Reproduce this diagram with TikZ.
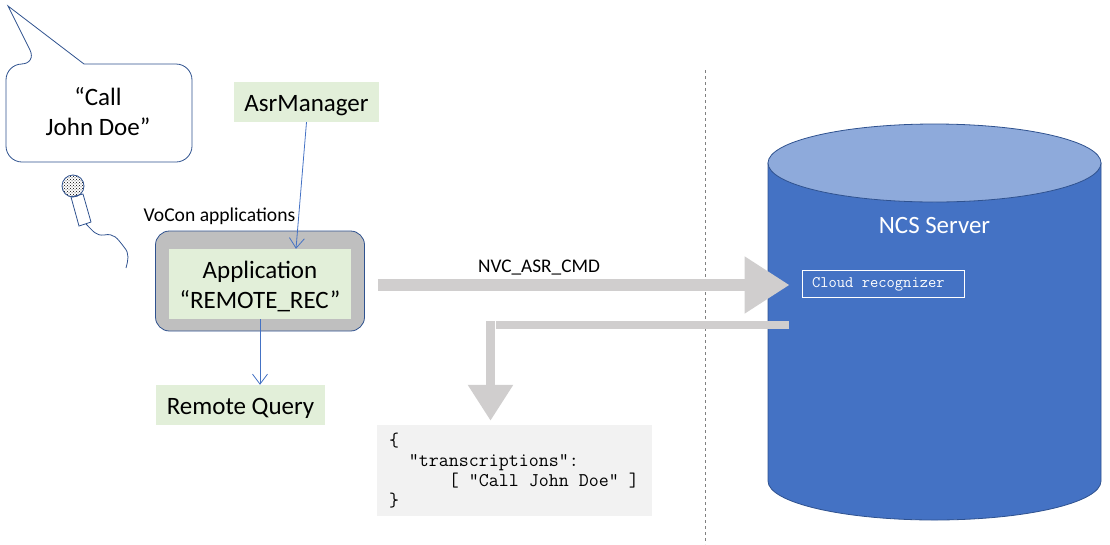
\documentclass[tikz,border=0pt]{standalone}
\usepackage{fontspec}
\setmainfont{Carlito}
\usetikzlibrary{arrows.meta}
\usetikzlibrary{patterns}
\definecolor{shapeline}{HTML}{2F528F}
\definecolor{connline}{HTML}{4472C4}
\definecolor{servertop}{HTML}{8EAADB}
\definecolor{paleGreen}{HTML}{E2EFD9}
\definecolor{fatgray}{HTML}{D0CECE}
\definecolor{jsongray}{HTML}{F2F2F2}
\begin{document}
\begin{tikzpicture}[x=1pt,y=-1pt,
	label24/.style={font=\fontsize{25}{30}\selectfont,align=flush center,text=black},
	greenbox/.style={fill=paleGreen,label24,inner sep=0pt},
	conn/.style={draw=connline,line width=0.8pt,-{Straight Barb[length=10pt,width=15pt,line width=0.8pt]}},
	fatarrow/.style={draw=fatgray,line width=12pt,-{Triangle[length=45pt,width=54pt]}}]
	\useasboundingbox (0,0) rectangle (1110,544);
	% speech bubble
	\draw[shapeline,fill=white,line width=0.8pt]
	[rounded corners=16pt] (84,64) -- (192,64) -- (192,162) -- (6,162) -- (6,64) -- (37,64)
	[sharp corners] -- (8,6) -- cycle;
	\node[label24] (speech) at (98,112) {“Call\\John Doe”};
	% microphone
	\draw[shapeline,line width=0.8pt] (71,197) -- (83,194) -- (91,222) -- (79,226) -- cycle;
	\draw[shapeline,line width=0.8pt,pattern=crosshatch dots,pattern color=black] (73,186) circle (11);
	\draw[shapeline,line width=0.8pt] (86,224) .. controls (93,231) and (96,236) .. (104,235)
	.. controls (114,233) and (117,238) .. (124,247) .. controls (130,254) and (128,260) .. (126,268);
	% application
	\node[draw=shapeline,fill=gray!50!white,line width=0.8pt,rounded corners=14pt,
	minimum width=209pt,minimum height=100pt] (apps) at (260,281) {};
	\node[greenbox,minimum width=182pt,minimum height=70pt] (app) at (260,284) {\rule{0pt}{22.5pt}Application\\“REMOTE\_REC”};
	\node[font=\fontsize{19.6}{22}\selectfont] (vocon) at (219.5,216) {VoCon applications};
	\node[greenbox,text height=22pt,text depth=4pt,minimum width=145pt,minimum height=40pt] (asr) at (306.5,102) {AsrManager};
	\node[greenbox,text height=22pt,text depth=4pt,minimum width=169pt,minimum height=40pt] (query) at (240.5,405) {Remote Query};
	\draw[conn] (asr.south) -- ([xshift=36pt]app.north);
	\draw[conn] (app.south) -- (app.south |- query.north);
	% separator
	\coordinate (septop) at (705,70);
	\coordinate (sepbot) at (705,544);
	\draw[gray,dashed,line width=0.6pt] (septop) -- (sepbot);
	% server
	\draw[shapeline,fill=connline,line width=0.8pt] (768,163) -- (768,481)
	arc[start angle=180,end angle=360,x radius=166.5pt,y radius=39pt] -- (1101,163) -- cycle;
	\draw[shapeline,fill=servertop,line width=0.8pt] (934.5,163) ellipse [x radius=166.5pt,y radius=39pt];
	\node[font=\fontsize{24.9}{28}\selectfont,text=white] (server) at (934.5,226) {NCS Server};
	\node[draw=white,line width=0.8pt,font=\ttfamily\fontsize{16.1}{18}\selectfont,text=white,align=flush left,
	minimum width=162pt,minimum height=27pt,inner xsep=10pt,text width=142pt] (cloud) at (883,284) {Cloud recognizer};
	% json answer
	\node[fill=jsongray,minimum width=275pt,minimum height=91pt,inner xsep=12pt,inner ysep=0pt,text width=251pt,
	align=flush left,font=\ttfamily\fontsize{19.4}{20}\selectfont] (json) at (514.5,470.5)
	{\{\\\ \ “transcriptions”:\\\ \ \ \ \ \ [ “Call John Doe” ]\\\}};
	% fat arrows
	\draw[fatarrow,shorten <=13pt,shorten >=12pt] ([yshift=-1pt]apps.east |- cloud.west) -- ([yshift=-1pt]cloud.west);
	\node[font=\fontsize{19.3}{22}\selectfont] (cmd) at (539,268) {NVC\_ASR\_CMD};
	\coordinate (backfrom) at (789,325);
	\coordinate (backto) at (496,325);
	\coordinate (backcorner) at (490.5,321);
	\draw[fatgray,line width=8pt] (backfrom) -- (backto);
	\draw[draw=fatgray,line width=9pt,-{Triangle[length=36pt,width=43pt]},shorten >=4pt] (backcorner) -- (backcorner |- json.north);
\end{tikzpicture}
\end{document}
